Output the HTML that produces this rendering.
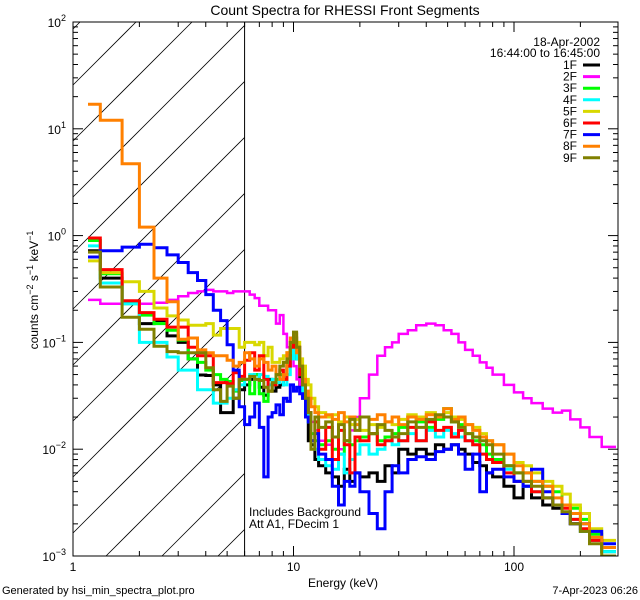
<!DOCTYPE html>
<html><head><meta charset="utf-8"><style>
html,body{margin:0;padding:0;background:#fff;overflow:hidden;width:640px;height:600px;}
svg{display:block;font-family:"Liberation Sans",sans-serif;}
</style></head><body>
<svg id="chart" width="640" height="600" viewBox="0 0 640 600" xmlns="http://www.w3.org/2000/svg">
<rect width="640" height="600" fill="#fff"/>
<text x="345" y="15" font-size="14" text-anchor="middle">Count Spectra for RHESSI Front Segments</text>
<g id="hatch"></g>
<g id="series"></g>
<g id="axes"></g>
<text transform="translate(38,290) rotate(-90)" font-size="12" text-anchor="middle">counts cm<tspan font-size="9" dy="-5">−2</tspan><tspan dy="5"> s</tspan><tspan font-size="9" dy="-5">−1</tspan><tspan dy="5"> keV</tspan><tspan font-size="9" dy="-5">−1</tspan></text>
<text x="343" y="587" font-size="12" text-anchor="middle">Energy (keV)</text>
<text x="2" y="594" font-size="11">Generated by hsi_min_spectra_plot.pro</text>
<text x="638" y="594" font-size="11" text-anchor="end">7-Apr-2023 06:26</text>
<text x="249" y="516" font-size="12">Includes Background</text>
<text x="249" y="528" font-size="12">Att A1, FDecim 1</text>
<text x="600" y="46" font-size="12" text-anchor="end">18-Apr-2002</text>
<text x="600" y="57" font-size="12" text-anchor="end">16:44:00 to 16:45:00</text>
<g id="legend"></g>
</svg>
<script>
const binEdges=[1.17,1.33,1.67,2.0,2.33,2.67,3.0,3.33,3.67,4.0,4.33,4.67,5.0,5.33,5.67,6.0,6.33,6.67,7.0,7.33,7.67,8.0,8.33,8.67,9.0,9.33,9.67,10,10.33,10.67,11,11.33,11.67,12,12.5,13,14,15,16,17,18,19,20,22,24,26,28,30,33,36,40,44,48,52,56,60,65,70,75,80,90,100,110,120,135,150,165,180,200,220,250,290];
const seriesNames=["1F","2F","3F","4F","5F","6F","7F","8F","9F"];
const seriesColors=["#000000","#ff00ff","#00ff00","#00ffff","#d8d800","#ff0000","#0000ff","#ff8000","#808000"];
const s1F=[0.72,0.40,0.24,0.15,0.16,0.115,0.10,0.07,0.0495,0.049,0.04,0.022,0.022,0.03,0.036,0.04,0.045,0.05,0.038,0.032,0.045,0.035,0.038,0.04,0.045,0.06,0.08,0.10,0.07,0.04,0.03,0.02,0.012,
0.011,0.008,0.007,0.006,0.0055,0.0045,0.0065,0.005,0.006,
0.0055,0.006,0.005,0.007,0.006,
0.01,0.009,0.01,0.009,0.011,0.01,0.011,0.01,
0.009,0.0075,0.007,0.006,0.0055,0.0045,
0.0035,0.0045,0.0035,0.003,0.0028,0.0025,0.002,0.0017,0.0014,0.0011];
const s2F=[0.25,0.23,0.23,0.23,0.235,0.25,0.27,0.29,0.30,0.31,0.30,0.30,0.29,0.30,0.30,0.30,0.28,0.26,0.22,0.22,0.20,0.20,0.15,0.18,0.12,0.09,0.08,0.06,0.045,0.035,0.03,0.025,0.02,
0.018,0.015,0.012,0.011,0.010,0.010,0.011,0.015,0.02,
0.03,0.05,0.075,0.09,0.10,
0.12,0.13,0.145,0.15,0.145,0.13,0.12,0.10,
0.085,0.075,0.065,0.058,0.05,0.04,
0.034,0.03,0.027,0.024,0.022,0.023,0.019,0.016,0.013,0.0105];
const s3F=[0.90,0.44,0.23,0.18,0.15,0.13,0.105,0.07,0.065,0.055,0.05,0.045,0.043,0.035,0.044,0.045,0.033,0.05,0.033,0.028,0.035,0.04,0.045,0.05,0.045,0.065,0.09,0.11,0.08,0.05,0.035,0.025,0.02,
0.014,0.012,0.011,0.012,0.010,0.009,0.012,0.011,0.012,
0.013,0.014,0.012,0.013,0.014,
0.016,0.02,0.018,0.016,0.019,0.024,0.018,0.017,
0.014,0.012,0.011,0.009,0.008,0.007,
0.006,0.006,0.005,0.0045,0.004,0.003,0.0028,0.0022,0.0016,0.0011];
const s4F=[0.80,0.36,0.23,0.10,0.10,0.073,0.055,0.055,0.036,0.036,0.027,0.027,0.03,0.036,0.04,0.045,0.05,0.045,0.05,0.048,0.04,0.045,0.042,0.045,0.04,0.05,0.07,0.09,0.07,0.05,0.035,0.025,0.018,
0.012,0.01,0.008,0.007,0.0065,0.009,0.006,0.008,0.009,
0.011,0.009,0.01,0.012,0.011,
0.012,0.014,0.012,0.015,0.013,0.015,0.014,0.013,
0.012,0.011,0.009,0.008,0.0075,0.0065,
0.005,0.0045,0.004,0.0035,0.003,0.0025,0.0022,0.0017,0.0014,0.0011];
const s5F=[0.58,0.45,0.37,0.30,0.21,0.177,0.162,0.145,0.145,0.15,0.117,0.135,0.135,0.135,0.09,0.10,0.10,0.095,0.10,0.075,0.09,0.065,0.065,0.07,0.075,0.08,0.10,0.12,0.10,0.07,0.06,0.045,0.04,
0.03,0.025,0.022,0.02,0.021,0.018,0.02,0.017,0.019,
0.015,0.017,0.016,0.018,0.017,
0.019,0.021,0.02,0.022,0.02,0.022,0.02,0.019,
0.017,0.016,0.014,0.012,0.011,0.009,
0.0075,0.007,0.006,0.005,0.0045,0.0038,0.003,0.0025,0.0018,0.0014];
const s6F=[0.95,0.48,0.245,0.19,0.165,0.139,0.139,0.09,0.075,0.075,0.042,0.042,0.041,0.052,0.048,0.068,0.08,0.055,0.075,0.045,0.035,0.04,0.05,0.055,0.045,0.06,0.09,0.11,0.09,0.05,0.04,0.03,0.022,
0.012,0.018,0.01,0.016,0.008,0.015,0.011,0.006,0.013,
0.012,0.014,0.011,0.012,0.013,
0.012,0.016,0.012,0.018,0.015,0.016,0.013,0.015,
0.012,0.011,0.009,0.008,0.0075,0.006,
0.005,0.005,0.004,0.0035,0.003,0.0028,0.0022,0.0018,0.0014,0.0012];
const s7F=[0.63,0.72,0.78,0.83,0.77,0.66,0.56,0.45,0.38,0.28,0.20,0.16,0.095,0.055,0.025,0.017,0.02,0.027,0.016,0.0055,0.02,0.022,0.026,0.021,0.03,0.028,0.04,0.035,0.038,0.033,0.03,0.02,0.018,
0.012,0.014,0.009,0.008,0.0045,0.003,0.005,0.0045,0.006,
0.004,0.0025,0.0018,0.004,0.007,
0.006,0.008,0.0085,0.008,0.0095,0.01,0.011,0.009,
0.0065,0.009,0.004,0.006,0.0065,0.0055,
0.005,0.0045,0.0065,0.004,0.003,0.0025,0.002,0.002,0.0017,0.0013];
const s8F=[17,12,4.7,1.2,0.4,0.24,0.107,0.11,0.085,0.08,0.075,0.075,0.068,0.06,0.065,0.08,0.07,0.06,0.07,0.065,0.055,0.06,0.05,0.045,0.05,0.08,0.11,0.12,0.08,0.06,0.045,0.035,0.03,
0.025,0.022,0.02,0.021,0.019,0.022,0.018,0.02,0.017,
0.02,0.019,0.021,0.018,0.02,
0.017,0.02,0.019,0.021,0.02,0.024,0.019,0.02,
0.017,0.015,0.013,0.012,0.011,0.009,
0.007,0.006,0.005,0.0045,0.0035,0.003,0.0025,0.002,0.0015,0.0012];
const s9F=[0.70,0.33,0.172,0.133,0.092,0.082,0.08,0.08,0.08,0.058,0.036,0.028,0.039,0.03,0.045,0.045,0.048,0.045,0.044,0.038,0.035,0.042,0.05,0.06,0.065,0.07,0.10,0.125,0.09,0.06,0.04,0.03,0.022,
0.01,0.02,0.016,0.018,0.013,0.017,0.012,0.019,0.015,
0.02,0.014,0.017,0.015,0.013,
0.014,0.018,0.016,0.019,0.021,0.02,0.018,0.016,
0.014,0.013,0.012,0.011,0.009,0.007,
0.006,0.005,0.0045,0.0035,0.003,0.0026,0.002,0.0017,0.0013,0.001];
const seriesValues=[s1F,s2F,s3F,s4F,s5F,s6F,s7F,s8F,s9F];
const xTickMajor=[1,10,100];
const xTickLabels=["1","10","100"];
const yTickExps=[-3,-2,-1,0,1,2];

const NS="http://www.w3.org/2000/svg";
const L=73,R=618,T=22,B=556;
const DEC=220.5, YDEC=(B-T)/5;
function xs(e){return L+DEC*Math.log10(e);}
function ys(v){return B-YDEC*(Math.log10(v)+3);}
function mk(tag,attrs,parent){const el=document.createElementNS(NS,tag);for(const k in attrs)el.setAttribute(k,attrs[k]);parent.appendChild(el);return el;}
const svg=document.getElementById('chart');
const defs=mk('defs',{},svg);
const cp=mk('clipPath',{id:'plotclip'},defs);mk('rect',{x:L,y:T,width:R-L,height:B-T},cp);

// hatching, computed within region
const hatch=document.getElementById('hatch');
const X6=xs(6);
for(let k=-12;k<14;k++){
  const c=85+56*k+L; // line: y = c - x
  let xa=Math.max(L,c-B), xb=Math.min(X6,c-T);
  if(xb<=xa)continue;
  const ln=mk('line',{x1:xa,y1:c-xa,x2:xb,y2:c-xb,stroke:'#000','stroke-width':0.8},hatch);
  
  
}
const vl=mk('line',{x1:X6,y1:T,x2:X6,y2:B,stroke:'#000','stroke-width':1},hatch);



// series
const sg=document.getElementById('series');
sg.setAttribute('clip-path','url(#plotclip)');
function cy(v){return Math.min(B+3,Math.max(T-3,ys(v)));}
seriesValues.forEach((vals,si)=>{
  let d='M'+xs(binEdges[0]).toFixed(1)+' '+cy(vals[0]).toFixed(1);
  for(let i=0;i<vals.length;i++){
    if(i>0)d+=' V'+cy(vals[i]).toFixed(1);
    d+=' H'+Math.min(R,xs(binEdges[i+1])).toFixed(1);
  }
  const p=mk('path',{d:d,fill:'none',stroke:seriesColors[si],'stroke-width':si===1?2.5:3,'stroke-linejoin':'miter'},sg);
  
  
});

// axes
const ax=document.getElementById('axes');
const frame=mk('rect',{x:L,y:T,width:R-L,height:B-T,fill:'none',stroke:'#000','stroke-width':1},ax);


for(let dec=0;dec<3;dec++){
  for(let m=1;m<10;m++){
    const e=m*Math.pow(10,dec);
    const x=xs(e); if(x>R)continue;
    const len=m===1?10:5;
    mk('line',{x1:x,y1:B,x2:x,y2:B-len,stroke:'#000'},ax);
    mk('line',{x1:x,y1:T,x2:x,y2:T+len,stroke:'#000'},ax);
  }
}
xTickMajor.forEach((e,i)=>{
  const t=mk('text',{x:xs(e),y:B+15,'font-size':12,'text-anchor':'middle'},ax);
  t.textContent=xTickLabels[i];
  
  
});
yTickExps.forEach(ex=>{
  for(let m=1;m<10;m++){
    if(ex===2&&m>1)continue;
    const v=m*Math.pow(10,ex);const y=ys(v);
    const len=m===1?10:5;
    mk('line',{x1:L,y1:y,x2:L+len,y2:y,stroke:'#000'},ax);
    mk('line',{x1:R,y1:y,x2:R-len,y2:y,stroke:'#000'},ax);
  }
  const t=mk('text',{x:L-7,y:ys(Math.pow(10,ex))+5,'font-size':12,'text-anchor':'end'},ax);
  
  
  t.appendChild(document.createTextNode('10'));
  const sp=mk('tspan',{'font-size':9,dy:-6},t);sp.textContent=String(ex).replace('-','−');
});

// legend
const lg=document.getElementById('legend');
seriesNames.forEach((n,i)=>{
  const y=69+11.6*i;
  const t=mk('text',{x:577,y:y,'font-size':12,'text-anchor':'end'},lg);
  t.textContent=n;
  
  
  const l=mk('line',{x1:583,y1:y-4,x2:600,y2:y-4,stroke:seriesColors[i],'stroke-width':3},lg);
  
  
});
</script>
</body></html>
